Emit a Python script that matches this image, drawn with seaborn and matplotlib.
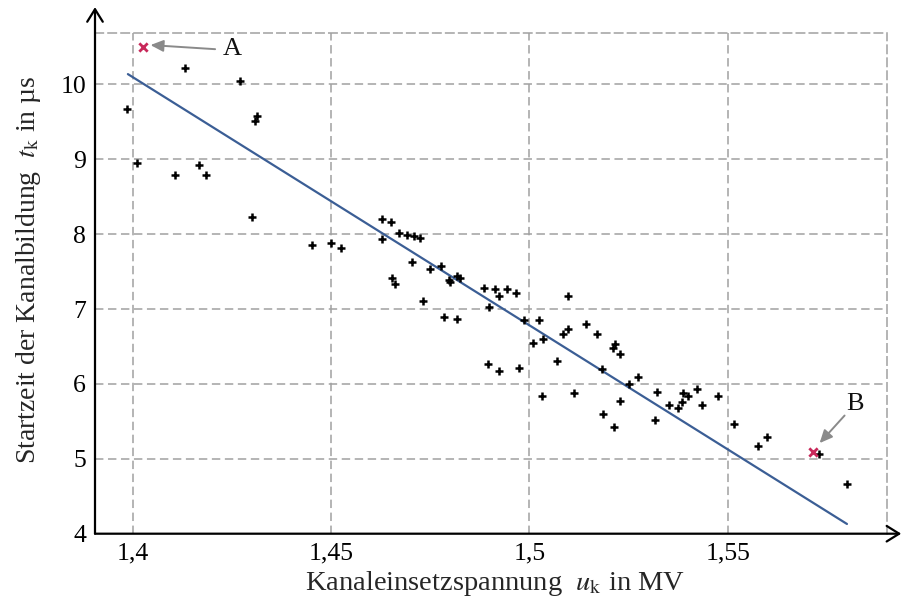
import matplotlib
matplotlib.use("Agg")
import matplotlib.pyplot as plt
import pandas as pd
import seaborn as sns

# Measured channel inception voltage (MV) and channel start time (µs)
u_k = [1.3985, 1.4011, 1.4107, 1.4132, 1.4166, 1.4184, 1.4269, 1.4299, 1.4307, 1.4313,
       1.4452, 1.4499, 1.4524, 1.4627, 1.4627, 1.4650, 1.4653, 1.4660, 1.4670, 1.4690,
       1.4704, 1.4708, 1.4725, 1.4732, 1.4749, 1.4778, 1.4784, 1.4797, 1.4800, 1.4817,
       1.4824, 1.4818, 1.4885, 1.4895, 1.4899, 1.4912, 1.4924, 1.4924, 1.4944, 1.4967,
       1.4974, 1.4985, 1.5010, 1.5024, 1.5031, 1.5033, 1.5069, 1.5084, 1.5097, 1.5097,
       1.5113, 1.5143, 1.5171, 1.5182, 1.5186, 1.5211, 1.5214, 1.5217, 1.5229, 1.5229,
       1.5252, 1.5273, 1.5316, 1.5322, 1.5351, 1.5374, 1.5386, 1.5388, 1.5401, 1.5422,
       1.5436, 1.5475, 1.5516, 1.5576, 1.5600, 1.5731, 1.5801]
t_k = [9.674, 8.955, 8.790, 10.220, 8.928, 8.786, 10.044, 8.234, 9.514, 9.577,
       7.857, 7.880, 7.813, 8.200, 7.937, 8.164, 7.410, 7.340, 8.017, 7.983,
       7.630, 7.973, 7.947, 7.104, 7.534, 7.570, 6.897, 7.393, 7.360, 7.440,
       7.410, 6.866, 7.280, 6.266, 7.027, 7.267, 7.170, 6.170, 7.267, 7.214,
       6.218, 6.860, 6.546, 6.850, 5.845, 6.605, 6.300, 6.662, 6.733, 7.180,
       5.876, 6.796, 6.662, 6.205, 5.605, 6.477, 5.422, 6.530, 6.406, 5.769,
       6.005, 6.099, 5.515, 5.898, 5.720, 5.680, 5.765, 5.885, 5.840, 5.933,
       5.720, 5.845, 5.466, 5.170, 5.294, 5.070, 4.657]

# Marked measurements A and B
marked_u = [1.4024, 1.5715]
marked_t = [10.50, 5.09]
marked_names = ["A", "B"]
label_u = [1.4250, 1.5821]
label_t = [10.467, 5.734]
arrow_tail_u = [1.4207, 1.5795]
arrow_tail_t = [10.470, 5.578]
arrow_head_u = [1.4044, 1.5732]
arrow_head_t = [10.525, 5.210]

# Linear fit, evaluated at the ends of the measured range
fit_u = [1.3987, 1.5801]
fit_t = [10.137, 4.130]

x_ticks = [1.40, 1.45, 1.50, 1.55]
x_tick_labels = ["1,4", "1,45", "1,5", "1,55"]
y_ticks = [4, 5, 6, 7, 8, 9, 10]
y_tick_labels = ["4", "5", "6", "7", "8", "9", "10"]

sns.set_theme(style="white")
plt.rcParams["font.family"] = ["Liberation Serif", "DejaVu Serif"]
plt.rcParams["mathtext.fontset"] = "stix"

points = pd.DataFrame({"u": u_k, "t": t_k})
marked = pd.DataFrame({"u": marked_u, "t": marked_t})
fit = pd.DataFrame({"u": fit_u, "t": fit_t})

fig = plt.figure(figsize=(9.03, 6.04), dpi=100)
ax = fig.add_axes([95 / 903, 1 - 533.7 / 604, 792 / 903, 501 / 604])

grid_color = "#a0a0a0"
dash = (0, (5.5, 3))
ax.grid(True, color=grid_color, linestyle=dash, linewidth=1.1, zorder=0)
ax.set_axisbelow(True)

sns.lineplot(data=fit, x="u", y="t", color="#3b5e95", linewidth=1.6, ax=ax, zorder=2)
sns.scatterplot(data=points, x="u", y="t", marker="+", color="black",
                s=28, linewidth=1.8, ax=ax, zorder=3)
sns.scatterplot(data=marked, x="u", y="t", marker="x", color="#c8285a",
                s=36, linewidth=2.0, ax=ax, zorder=4)

for name, lx, ly, tx, ty, hx, hy in zip(marked_names, label_u, label_t,
                                        arrow_tail_u, arrow_tail_t,
                                        arrow_head_u, arrow_head_t):
    ax.text(lx, ly, name, ha="center", va="center", fontsize=19, color="#111111")
    ax.annotate("", xy=(hx, hy), xytext=(tx, ty),
                arrowprops=dict(arrowstyle="-|>,head_length=0.55,head_width=0.25",
                                color="#8a8a8a", lw=1.4, shrinkA=0, shrinkB=0,
                                mutation_scale=14))

ax.set_xlim(1.3904, 1.5902)
ax.set_ylim(4, 10.69)
ax.set_xticks(x_ticks)
ax.set_xticklabels(x_tick_labels)
ax.set_yticks(y_ticks)
ax.set_yticklabels(y_tick_labels)
ax.tick_params(axis="both", direction="inout", length=7, width=1.0,
               colors="black", labelsize=18.5, pad=3)
ax.set_xlabel("")
ax.set_ylabel("")

# Top and right borders as dashed grid lines
for side in ("top", "right"):
    ax.spines[side].set_color(grid_color)
    ax.spines[side].set_linestyle(dash)
    ax.spines[side].set_linewidth(1.1)
for side in ("left", "bottom"):
    ax.spines[side].set_visible(False)

# Axis lines with arrow heads
arrow_kw = dict(arrowstyle="->,head_length=0.45,head_width=0.28", color="black",
                lw=1.6, shrinkA=0, shrinkB=0, mutation_scale=20)
ax.annotate("", xy=(0, 1.051), xycoords="axes fraction", xytext=(0, 0),
            textcoords="axes fraction", arrowprops=arrow_kw, annotation_clip=False)
ax.annotate("", xy=(1.018, 0), xycoords="axes fraction", xytext=(0, 0),
            textcoords="axes fraction", arrowprops=arrow_kw, annotation_clip=False)

fig.text(495 / 903, 1 - 584 / 604, r"Kanaleinsetzspannung  $u_\mathrm{k}$ in MV",
         ha="center", va="center", fontsize=20.5)
fig.text(29 / 903, 1 - 270 / 604, r"Startzeit der Kanalbildung  $t_\mathrm{k}$ in µs",
         ha="center", va="center", rotation=90, fontsize=20)

fig.savefig("out.png", dpi=100)
